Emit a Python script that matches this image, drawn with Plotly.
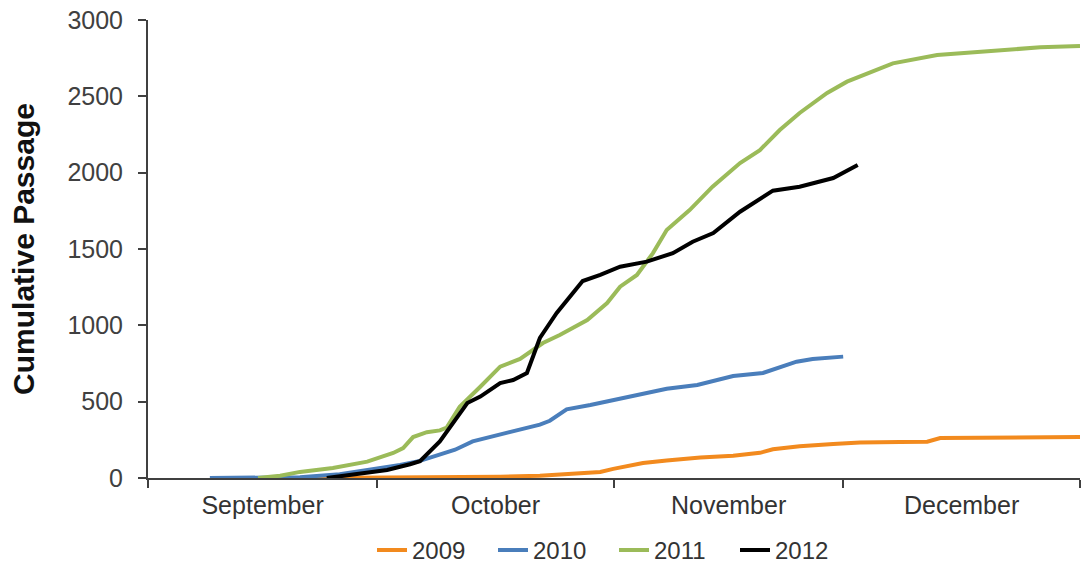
import plotly.graph_objects as go

# Days since 1 September (x) and cumulative passage (y)
days_2009 = [21.2, 33.0, 46.1, 51.3, 55.6, 59.2, 60.9, 63.1, 64.8, 67.9, 72.3, 76.6, 80.1, 81.8,
             85.3, 89.7, 93.2, 98.4, 102.0, 103.7, 111.5, 122.0]
vals_2009 = [0, 2, 8, 15, 30, 40, 60, 80, 98, 115, 135, 145, 165, 188,
             208, 222, 232, 236, 238, 262, 266, 268]

days_2010 = [8.1, 14.7, 19.9, 25.1, 28.7, 33.0, 35.6, 38.2, 40.2, 42.5, 47.0, 51.3, 52.6, 54.8,
             57.9, 61.8, 64.4, 67.9, 71.9, 76.6, 80.5, 84.9, 87.0, 91.0]
vals_2010 = [0, 0, 5, 25, 50, 85, 112, 150, 185, 240, 298, 350, 375, 450,
             478, 520, 544, 585, 609, 668, 688, 762, 780, 795]

days_2011 = [14.4, 17.3, 19.9, 24.2, 28.7, 32.1, 33.4, 34.7, 36.5, 38.2, 39.1, 40.8, 43.5, 46.1,
             48.7, 51.7, 53.9, 57.5, 60.1, 61.8, 64.0, 66.1, 67.9, 70.9, 73.9, 77.5, 80.1, 82.7,
             85.3, 88.9, 91.5, 94.2, 97.5, 103.3, 110.2, 116.8, 122.0]
vals_2011 = [0, 15, 40, 65, 107, 164, 196, 268, 300, 312, 330, 467, 598, 729,
             780, 884, 937, 1035, 1146, 1253, 1330, 1473, 1624, 1755, 1908, 2063, 2148, 2279,
             2391, 2522, 2596, 2653, 2716, 2771, 2799, 2821, 2830]

days_2012 = [23.4, 26.4, 29.5, 31.3, 34.3, 35.6, 38.2, 39.9, 41.8, 43.5, 46.1, 47.8, 49.6, 51.3,
             53.5, 56.9, 59.2, 61.8, 65.3, 68.7, 71.3, 74.0, 77.5, 81.8, 85.3, 89.7, 92.9]
vals_2012 = [0, 20, 41, 52, 90, 110, 240, 360, 491, 533, 622, 642, 688, 917,
             1081, 1290, 1330, 1384, 1417, 1473, 1548, 1605, 1744, 1882, 1908, 1965, 2050]

month_labels = ["September", "October", "November", "December"]
month_bounds = [0, 30, 61, 91, 122]
month_centers = [(a + b) / 2 for a, b in zip(month_bounds[:-1], month_bounds[1:])]
y_ticks = [0, 500, 1000, 1500, 2000, 2500, 3000]

series = [
    ("2009", days_2009, vals_2009, "#F28A1E"),
    ("2010", days_2010, vals_2010, "#4A7EBB"),
    ("2011", days_2011, vals_2011, "#9BBB59"),
    ("2012", days_2012, vals_2012, "#000000"),
]

fig = go.Figure()
for name, xs, ys, color in series:
    fig.add_trace(go.Scatter(x=xs, y=ys, name=name, mode="lines",
                             line=dict(color=color, width=4)))

axis_color = "#404040"
text_color = "#333333"
fig.update_layout(
    width=1083, height=576,
    margin=dict(l=148, r=3, t=20, b=98),
    paper_bgcolor="white", plot_bgcolor="white",
    font=dict(family="Liberation Sans, Arial, sans-serif", size=25, color=text_color),
    showlegend=True,
    legend=dict(orientation="h", x=0.5, xanchor="center", y=-0.158, yanchor="middle",
                font=dict(size=24, color=text_color), borderwidth=0,
                entrywidth=76, entrywidthmode="pixels", tracegroupgap=0),
    xaxis=dict(range=[0, 122], tickmode="array", tickvals=month_centers, ticktext=month_labels,
               ticks="", showgrid=False, zeroline=False, showline=True,
               linecolor=axis_color, linewidth=2, automargin=False,
               ticklabelstandoff=4, ticklabeloverflow="allow",
               minor=dict(tickmode="array", tickvals=month_bounds, ticks="outside",
                          ticklen=8, tickwidth=2, tickcolor=axis_color, showgrid=False),
               tickfont=dict(size=25, color=text_color), fixedrange=True),
    yaxis=dict(range=[0, 3000], tickmode="array", tickvals=y_ticks,
               ticks="outside", ticklen=8, tickwidth=2, tickcolor=axis_color,
               showgrid=False, zeroline=False, showline=True, linecolor=axis_color, linewidth=2,
               automargin=False, ticklabelstandoff=10, ticklabeloverflow="allow",
               tickfont=dict(size=25, color="#404040"), fixedrange=True,
               title=dict(text="<b>Cumulative Passage</b>", font=dict(size=30, color="#111111"),
                          standoff=24)),
)

# remove the default 8px page margin so the figure sits at the window origin
fig.write_html("out.html", config={"displayModeBar": False},
               post_script="document.body.style.margin='0';")
